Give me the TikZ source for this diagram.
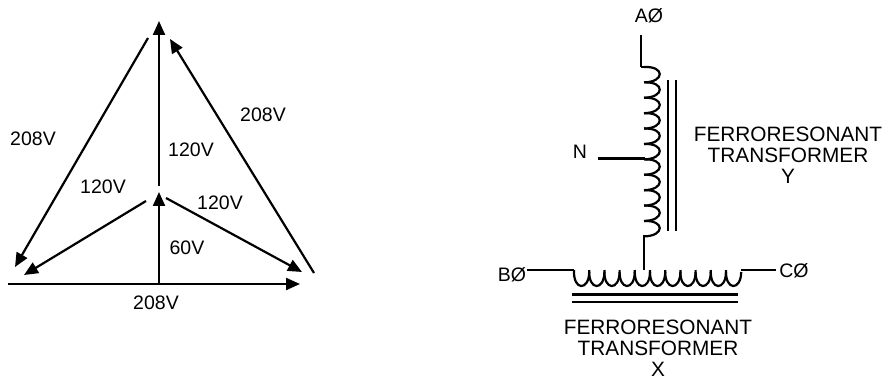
\documentclass[tikz,border=0pt]{standalone}
\usepackage{fontspec}
\setmainfont{Liberation Sans}
\usetikzlibrary{calc,arrows.meta}
\tikzset{
    wire/.style={line width=2.2pt},
    vec/.style={line width=2.2pt, -{Triangle[length=14pt,width=12pt]}},
    volt/.style={inner sep=0pt, font=\fontsize{19.5}{21}\selectfont},
    label/.style={inner sep=0pt, align=center, font=\fontsize{20.8}{21}\selectfont}
}

\begin{document}
\begin{tikzpicture}[x=1pt,y=-1pt]
        \useasboundingbox (0,0) rectangle (885,379);
        % phasors
        \coordinate (bl) at (8,284);
        \coordinate (br) at (300,284);
        \coordinate (bm) at (159,284);
        \coordinate (nt) at (159,192);
        \coordinate (ab) at (159,186);
        \coordinate (at) at (159,21);
        \coordinate (ls) at (148,38);
        \coordinate (le) at (15,267);
        \coordinate (rs) at (314,273);
        \coordinate (re) at (170,39);
        \coordinate (il) at (146,201);
        \coordinate (ile) at (24,275);
        \coordinate (ir) at (166,198);
        \coordinate (ire) at (302,272);
        \draw[vec] (bl) -- (br);
        \draw[vec] (bm) -- (nt);
        \draw[vec] (ab) -- (at);
        \draw[vec] (ls) -- (le);
        \draw[vec] (rs) -- (re);
        \draw[vec] (il) -- (ile);
        \draw[vec] (ir) -- (ire);
        \node[volt] (vleft) at (33,139) {208V};
        \node[volt] (vright) at (263,115) {208V};
        \node[volt] (vup) at (191,150) {120V};
        \node[volt] (vil) at (103,187) {120V};
        \node[volt] (vir) at (220,203) {120V};
        \node[volt] (vn) at (187,248) {60V};
        \node[volt] (vbase) at (156,303) {208V};
        % transformer Y
        \coordinate (atop) at (641,35);
        \coordinate (acoil) at (641,67);
        \draw[wire] (atop) -- (acoil);
        \coordinate (s) at (641,67);
        \draw[wire] (s) -- ($(s) + (5,0)$);
        \coordinate (s) at (644,67);
        \foreach \num in {0,1,2,3,4,5,6,7,8,9,10}{
        \draw[wire] (s) .. controls ($(s) + (21,-1)$) and ($(s) + (21,15)$) .. ($(s) + (0,15.4)$);
        \coordinate (s) at ($(s) + (0,15.4)$);
        }
        \coordinate (ybot) at (644,235);
        \coordinate (xtap) at (644,270);
        \draw[wire] (ybot) -- (xtap);
        \coordinate (ntap) at (645,158.5);
        \coordinate (nend) at (598,158.5);
        \draw[wire] (nend) -- (ntap);
        \draw[wire] (668,80) -- (668,231);
        \draw[wire] (676,80) -- (676,231);
        % transformer X
        \coordinate (bend) at (527,270);
        \coordinate (bcoil) at (574,270);
        \coordinate (cend) at (776,270);
        \coordinate (ccoil) at (741,270);
        \draw[wire] (bend) -- (bcoil);
        \draw[wire] (ccoil) -- (cend);
        \coordinate (s) at (574,270);
        \foreach \num in {0,1,2,3,4,5,6,7,8,9,10}{
        \draw[wire] (s) .. controls ($(s) + (-1,21)$) and ($(s) + (15,21)$) .. ($(s) + (15.2,2)$);
        \coordinate (s) at ($(s) + (15.2,0)$);
        }
        \draw[wire] (572,294.5) -- (738,294.5);
        \draw[wire] (572,302) -- (738,302);
        % texts
        \node[volt] (aphase) at (649,16) {AØ};
        \node[volt] (neutral) at (580,152) {N};
        \node[volt] (bphase) at (512,275) {BØ};
        \node[volt] (cphase) at (794,271) {CØ};
        \node[label] (ylabel) at (788,155) {FERRORESONANT\\TRANSFORMER\\Y};
        \node[label] (xlabel) at (658,348) {FERRORESONANT\\TRANSFORMER\\X};
    \end{tikzpicture}
\end{document}
